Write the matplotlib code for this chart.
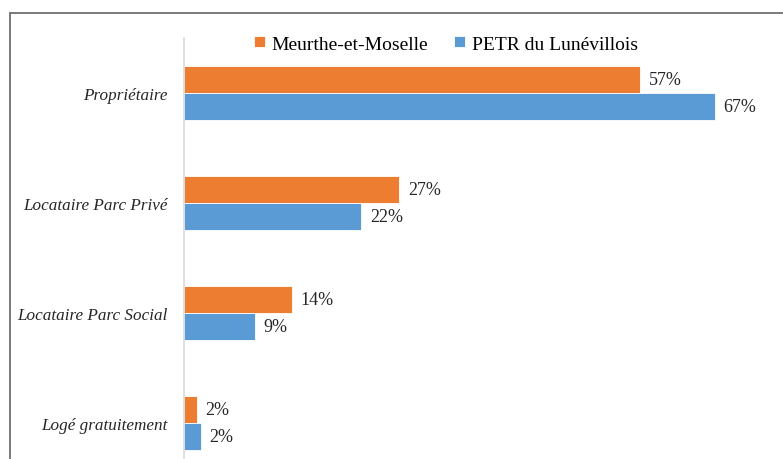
import matplotlib.pyplot as plt
from matplotlib.patches import Rectangle

categories = ['Propriétaire', 'Locataire Parc Privé', 'Locataire Parc Social', 'Logé gratuitement']
meurthe = [57.4, 27.1, 13.6, 1.6]
petr = [66.8, 22.3, 8.9, 2.1]
series_names = ['Meurthe-et-Moselle', 'PETR du Lunévillois']

orange = '#ED7D31'
blue = '#5B9BD5'

plt.rcParams['font.family'] = ['Liberation Serif', 'DejaVu Serif']

fig = plt.figure(figsize=(7.83, 4.60), dpi=100)
# plot area runs past the bottom edge, like the cropped original
ax = fig.add_axes([184 / 783, 1 - 479 / 460, 576 / 783, 440 / 460])

h = 0.245
pos = list(range(len(categories)))
b1 = ax.barh([p - h / 2 for p in pos], meurthe, height=h, color=orange,
             edgecolor='white', linewidth=0.6, label=series_names[0])
b2 = ax.barh([p + h / 2 for p in pos], petr, height=h, color=blue,
             edgecolor='white', linewidth=0.6, label=series_names[1])

for bars, vals in ((b1, meurthe), (b2, petr)):
    for bar, v in zip(bars, vals):
        ax.text(v + 1.1, bar.get_y() + bar.get_height() / 2, f'{v:.0f}%',
                va='center', ha='left', fontsize=13, color='#262626')

ax.set_ylim(len(categories) - 0.5, -0.5)
ax.set_xlim(0, 72.5)
ax.set_yticks(pos)
ax.set_yticklabels(categories, fontstyle='italic', fontsize=12.3, color='#262626')
ax.tick_params(axis='y', length=0, pad=11.5)
ax.set_xticks([])
for s in ('top', 'right', 'bottom'):
    ax.spines[s].set_visible(False)
ax.spines['left'].set_color('#D9D9D9')
ax.spines['left'].set_linewidth(1.2)

fig.legend(handles=[b1, b2], labels=series_names, loc='center',
           bbox_to_anchor=(446 / 783, 1 - 45 / 460), ncol=2, frameon=False,
           fontsize=14, handlelength=0.55, handleheight=0.55,
           handletextpad=0.35, columnspacing=1.35)

fig.patches.append(Rectangle((10 / 783, -0.1), 1.1, 1 - 14 / 460 + 0.1,
                             transform=fig.transFigure, fill=False,
                             edgecolor='#6E6E6E', linewidth=1.3))

fig.savefig('out.png', dpi=100)
